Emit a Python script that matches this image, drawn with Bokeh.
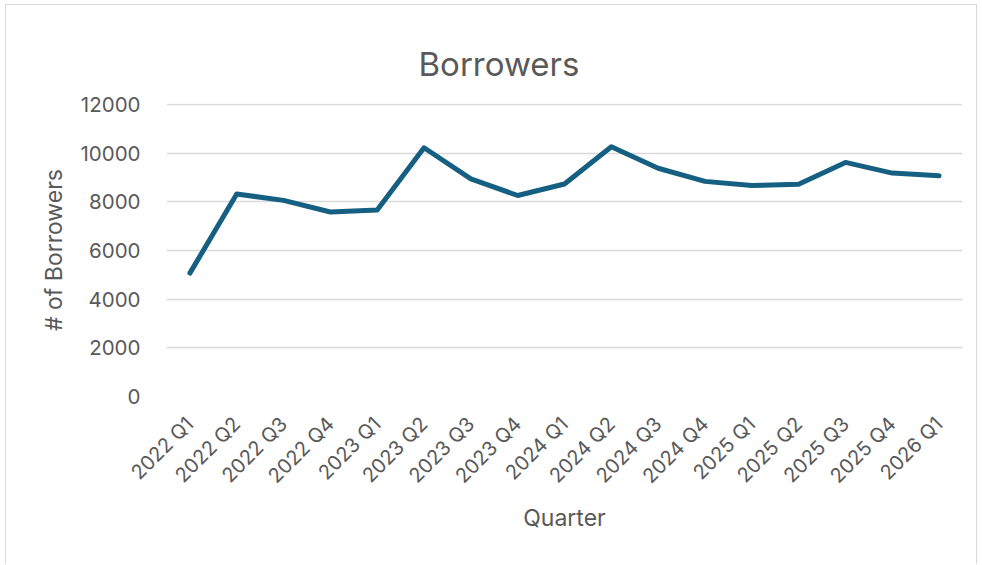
from bokeh.plotting import figure
from bokeh.embed import file_html
from bokeh.resources import INLINE
from bokeh.models import Range1d, FixedTicker
import math

quarters = ["2022 Q1", "2022 Q2", "2022 Q3", "2022 Q4", "2023 Q1", "2023 Q2", "2023 Q3", "2023 Q4",
            "2024 Q1", "2024 Q2", "2024 Q3", "2024 Q4", "2025 Q1", "2025 Q2", "2025 Q3", "2025 Q4",
            "2026 Q1"]
borrowers = [5070, 8320, 8060, 7580, 7660, 10220, 8940, 8260,
             8730, 10260, 9380, 8840, 8670, 8720, 9620, 9180,
             9070]
y_ticks = [0, 2000, 4000, 6000, 8000, 10000, 12000]

FONT = "Inter"
TXT = "#595959"

p = figure(width=972, height=560, x_range=quarters, y_range=Range1d(0, 12040),
           output_backend="svg", toolbar_location=None,
           min_border_left=160, min_border_right=16, min_border_top=98, min_border_bottom=169)

p.line(x=quarters, y=borrowers, line_color="#156082", line_width=5, line_join="round", line_cap="round")

p.title.text = "Borrowers"
p.title.align = "left"
p.title.offset = 252
p.title.text_font = FONT
p.title.text_font_size = "33px"
p.title.text_font_style = "normal"
p.title.text_color = TXT
p.title.vertical_align = "top"
p.title.standoff = 35

p.outline_line_color = None
p.xgrid.grid_line_color = None
p.ygrid.grid_line_color = "#d9d9d9"
p.ygrid.grid_line_width = 1.3

p.yaxis.ticker = FixedTicker(ticks=y_ticks)
for ax in (p.xaxis[0], p.yaxis[0]):
    ax.axis_line_color = None
    ax.major_tick_line_color = None
    ax.minor_tick_line_color = None
    ax.major_label_text_color = TXT
    ax.major_label_text_font = FONT
    ax.axis_label_text_color = TXT
    ax.axis_label_text_font = FONT
    ax.axis_label_text_font_style = "normal"

p.yaxis.major_label_text_font_size = "20.5px"
p.yaxis.major_label_standoff = 20
p.yaxis.axis_label = "# of Borrowers"
p.yaxis.axis_label_text_font_size = "23px"
p.yaxis.axis_label_standoff = 9

p.xaxis.major_label_orientation = math.pi / 4
p.xaxis.major_label_text_font_size = "20px"
p.xaxis.major_label_standoff = 18
p.xaxis.axis_label = "Quarter"
p.xaxis.axis_label_text_font_size = "23px"
p.xaxis.axis_label_standoff = 5

p.styles = {"border-top": "1px solid #d9d9d9", "border-left": "1px solid #d9d9d9",
            "border-right": "1px solid #d9d9d9", "margin-left": "5px", "margin-top": "4px"}

open("out.html", "w").write(file_html(p, INLINE))
